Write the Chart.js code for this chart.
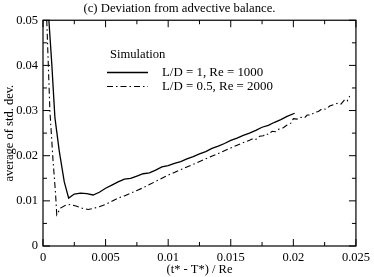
<!DOCTYPE html>
<html>
<head>
<meta charset="utf-8">
<script src="https://cdn.jsdelivr.net/npm/chart.js@4"></script>
<style>
  html, body { margin: 0; padding: 0; background: #fff; }
  #wrap { width: 374px; height: 277px; }
</style>
</head>
<body>
<div id="wrap"><canvas id="devChart" width="374" height="277"></canvas></div>
<script>
// L/D = 1, Re = 1000
const solidX = [0.00047, 0.0007, 0.00095, 0.0013, 0.0017, 0.00205, 0.0025, 0.003, 0.0035, 0.004, 0.0045, 0.005, 0.0055, 0.006, 0.0065, 0.007, 0.0075, 0.008, 0.0085, 0.009, 0.0095, 0.01, 0.0105, 0.011, 0.0115, 0.012, 0.0125, 0.013, 0.0135, 0.014, 0.0145, 0.015, 0.0155, 0.016, 0.0165, 0.017, 0.0175, 0.018, 0.0185, 0.019, 0.0195, 0.0201];
const solidY = [0.05, 0.0404, 0.0285, 0.021, 0.0142, 0.0106, 0.0115, 0.0117, 0.0116, 0.0113, 0.0119, 0.0128, 0.0135, 0.0142, 0.0148, 0.015, 0.0155, 0.016, 0.0162, 0.0168, 0.0175, 0.0178, 0.0183, 0.0187, 0.0193, 0.0198, 0.0204, 0.0209, 0.0216, 0.0221, 0.0227, 0.0234, 0.0239, 0.0245, 0.025, 0.0256, 0.0263, 0.0267, 0.0274, 0.028, 0.0287, 0.0294];

// L/D = 0.5, Re = 2000
const dashX = [0.0003, 0.00055, 0.0008, 0.001, 0.0011, 0.0014, 0.0018, 0.0022, 0.0027, 0.0032, 0.0036, 0.004, 0.0045, 0.005, 0.0055, 0.006, 0.0065, 0.007, 0.0075, 0.008, 0.0085, 0.009, 0.0095, 0.01, 0.011, 0.012, 0.013, 0.014, 0.015, 0.016, 0.0165, 0.0168, 0.017, 0.0173, 0.0176, 0.0178, 0.018, 0.0183, 0.0186, 0.0189, 0.0192, 0.0195, 0.0198, 0.02, 0.0203, 0.0206, 0.0209, 0.0211, 0.0214, 0.0217, 0.022, 0.0223, 0.0226, 0.0229, 0.0232, 0.0235, 0.0238, 0.0241, 0.0243, 0.0245];
const dashY = [0.05, 0.030, 0.019, 0.0117, 0.0069, 0.0084, 0.009, 0.0092, 0.0088, 0.0083, 0.0081, 0.0083, 0.0087, 0.0092, 0.0099, 0.0106, 0.0111, 0.0117, 0.0123, 0.0129, 0.0136, 0.0143, 0.015, 0.0157, 0.0169, 0.0181, 0.0193, 0.0205, 0.0217, 0.0229, 0.0234, 0.0238, 0.0236, 0.0243, 0.0244, 0.0249, 0.0247, 0.0254, 0.0253, 0.026, 0.0262, 0.0268, 0.0272, 0.0282, 0.0281, 0.0285, 0.0284, 0.029, 0.029, 0.0296, 0.0298, 0.0304, 0.0303, 0.031, 0.0313, 0.0316, 0.0314, 0.0324, 0.0321, 0.0332];

const xTicks = [0, 0.005, 0.01, 0.015, 0.02, 0.025];
const yTicks = [0, 0.01, 0.02, 0.03, 0.04, 0.05];
const xMinor = 0.0025;
const yMinor = 0.005;

const serif = '"Liberation Serif", "Times New Roman", serif';
const dashDot = [6, 3, 1.5, 3];

function toPoints(xs, ys) {
  return xs.map((x, i) => ({ x: x, y: ys[i] }));
}

function fmt(v) {
  if (Math.abs(v) < 1e-12) return '0';
  return String(parseFloat(v.toFixed(4)));
}

// frame, inward ticks and legend box
const framePlugin = {
  id: 'frame',
  afterDraw(chart) {
    const ctx = chart.ctx;
    const a = chart.chartArea;
    const xs = chart.scales.x, ys = chart.scales.y;
    ctx.save();
    ctx.strokeStyle = '#000';
    ctx.lineWidth = 1.2;
    ctx.strokeRect(a.left, a.top, a.right - a.left, a.bottom - a.top);
    ctx.lineWidth = 1;
    ctx.beginPath();
    for (let v = 0; v <= 0.025 + 1e-9; v += xMinor) {
      const px = xs.getPixelForValue(v);
      const major = xTicks.some(t => Math.abs(t - v) < 1e-9);
      const len = major ? 7 : 4;
      ctx.moveTo(px, a.bottom); ctx.lineTo(px, a.bottom - len);
      ctx.moveTo(px, a.top); ctx.lineTo(px, a.top + len);
    }
    for (let v = 0; v <= 0.05 + 1e-9; v += yMinor) {
      const py = ys.getPixelForValue(v);
      const major = yTicks.some(t => Math.abs(t - v) < 1e-9);
      const len = major ? 7 : 4;
      ctx.moveTo(a.left, py); ctx.lineTo(a.left + len, py);
      ctx.moveTo(a.right, py); ctx.lineTo(a.right - len, py);
    }
    ctx.stroke();

    // legend
    ctx.fillStyle = '#000';
    ctx.font = '12.6px ' + serif;
    ctx.textBaseline = 'middle';
    ctx.textAlign = 'left';
    ctx.fillText('Simulation', a.left + 67, 55);
    ctx.font = '12.9px ' + serif;
    const rows = [72.5, 86.5];
    chart.data.datasets.forEach((ds, i) => {
      ctx.beginPath();
      ctx.setLineDash(ds.borderDash || []);
      ctx.lineWidth = ds.borderWidth;
      ctx.moveTo(a.left + 64, rows[i]);
      ctx.lineTo(a.left + 105, rows[i]);
      ctx.stroke();
      ctx.setLineDash([]);
      ctx.fillText(ds.label, a.left + 119, rows[i]);
    });
    ctx.restore();
  }
};

new Chart(document.getElementById('devChart').getContext('2d'), {
  type: 'scatter',
  data: {
    datasets: [
      {
        label: 'L/D = 1, Re = 1000',
        data: toPoints(solidX, solidY),
        showLine: true,
        borderColor: '#000',
        borderWidth: 1.3,
        pointRadius: 0,
        tension: 0
      },
      {
        label: 'L/D = 0.5, Re = 2000',
        data: toPoints(dashX, dashY),
        showLine: true,
        borderColor: '#000',
        borderWidth: 1.1,
        borderDash: dashDot,
        pointRadius: 0,
        tension: 0
      }
    ]
  },
  options: {
    responsive: false,
    animation: false,
    events: [],
    layout: { padding: { left: 0, right: 15, top: 0, bottom: 0 } },
    plugins: {
      legend: { display: false },
      tooltip: { enabled: false },
      title: {
        display: true,
        text: '(c) Deviation from advective balance.',
        color: '#000',
        font: { family: serif, size: 12.7, weight: 'normal' },
        padding: { top: 1, bottom: 4 }
      }
    },
    scales: {
      x: {
        type: 'linear',
        min: 0,
        max: 0.025,
        afterBuildTicks(scale) { scale.ticks = xTicks.map(v => ({ value: v })); },
        afterFit(scale) { scale.height = 31; },
        grid: { display: false, drawTicks: false },
        border: { display: false },
        ticks: {
          color: '#000',
          padding: 4,
          maxRotation: 0,
          font: { family: serif, size: 12.5 },
          callback: v => fmt(v)
        },
        title: {
          display: true,
          text: '(t* - T*) / Re',
          color: '#000',
          font: { family: serif, size: 12.5 },
          padding: { top: -3, bottom: 0 }
        }
      },
      y: {
        type: 'linear',
        min: 0,
        max: 0.05,
        afterBuildTicks(scale) { scale.ticks = yTicks.map(v => ({ value: v })); },
        afterFit(scale) { scale.width = 43; },
        grid: { display: false, drawTicks: false },
        border: { display: false },
        ticks: {
          color: '#000',
          padding: 5,
          font: { family: serif, size: 12.5 },
          callback: v => fmt(v)
        },
        title: {
          display: true,
          text: 'average of std. dev.',
          color: '#000',
          font: { family: serif, size: 12.5 },
          padding: { top: 2, bottom: 0 }
        }
      }
    }
  },
  plugins: [framePlugin]
});
</script>
</body>
</html>
